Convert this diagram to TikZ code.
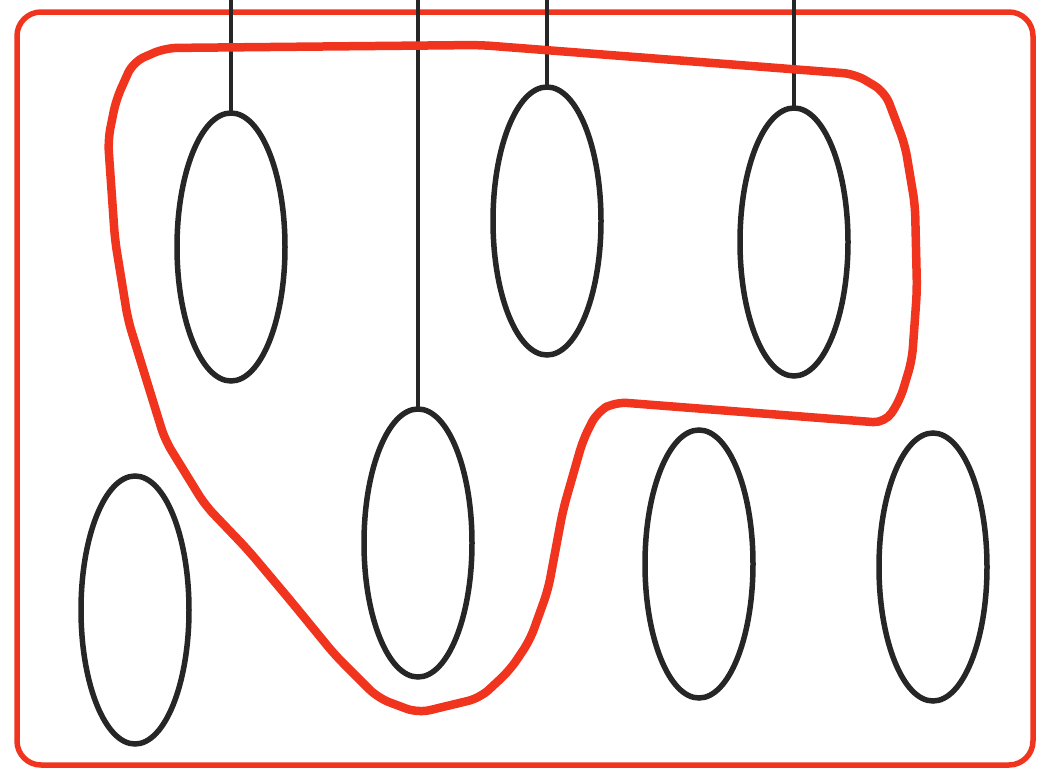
\documentclass[tikz,border=0pt]{standalone}
\usetikzlibrary{shapes.geometric}
\begin{document}
\begin{tikzpicture}[x=1pt,y=-1pt,
  frame/.style={draw=redline,line width=5.5pt,rounded corners=24pt},
  blob/.style={draw=redline,line width=8.5pt,rounded corners=12pt,line join=round},
  ell/.style={draw=ink,line width=5.5pt,shape=ellipse,inner sep=0pt,minimum width=108pt,minimum height=268pt,outer sep=0pt},
  hang/.style={draw=ink,line width=4.5pt}]
\definecolor{redline}{RGB}{240,52,30}
\definecolor{ink}{RGB}{38,38,38}
\useasboundingbox (0,0) rectangle (1037,769);
\draw[frame] (17,12) rectangle (1033,765);
% ellipses
\node[ell] (e1) at (231,247) {};
\node[ell] (e2) at (547,221) {};
\node[ell] (e3) at (794,242) {};
\node[ell] (e4) at (135,610) {};
\node[ell] (e5) at (418,543) {};
\node[ell] (e6) at (699,564) {};
\node[ell] (e7) at (933,567) {};
% hanging lines
\coordinate (t1) at (231,0);
\coordinate (t2) at (418,0);
\coordinate (t3) at (547,0);
\coordinate (t4) at (794,0);
\draw[hang] (t1) -- (e1.north);
\draw[hang] (t2) -- (e5.north);
\draw[hang] (t3) -- (e2.north);
\draw[hang] (t4) -- (e3.north);
% red enclosing curve
\draw[blob] (133,62) -- (165,48) -- (480,45) -- (855,74) -- (885,92) -- (905,145)
  -- (915,205) -- (917,290) -- (912,360) -- (900,400) -- (885,423) -- (615,402)
  -- (597,412) -- (583,440) -- (563,510) -- (548,590) -- (530,640) -- (510,670)
  -- (480,698) -- (418,713) -- (378,698) -- (335,655) -- (290,600) -- (248,550)
  -- (205,505) -- (165,440) -- (148,385) -- (128,320) -- (115,240) -- (108,140)
  -- (116,100) -- cycle;
\end{tikzpicture}
\end{document}
